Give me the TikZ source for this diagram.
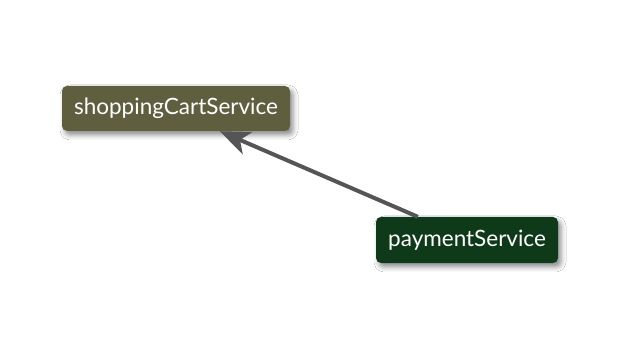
\documentclass[tikz,border=0pt]{standalone}
\usepackage{fontspec}
\setmainfont{Lato}
\usetikzlibrary{arrows.meta,shadows.blur}
\definecolor{cartfill}{HTML}{5F5F40}
\definecolor{payfill}{HTML}{0F3A19}
\definecolor{edgegray}{HTML}{555555}
\tikzset{
  svc/.style={rounded corners=5pt, text=white, inner sep=0pt,
    font=\fontsize{22.5}{26}\selectfont,
    blur shadow={shadow xshift=3pt, shadow yshift=-4pt, shadow blur radius=5pt, shadow opacity=45}},
  callarrow/.style={draw=edgegray, line width=4pt,
    -{Stealth[length=30pt, width=24pt, inset=8pt]}}
}
\begin{document}
\begin{tikzpicture}[x=1pt,y=1pt]
  \useasboundingbox[fill=white] (0,0) rectangle (627,362);
  \node[svc, fill=cartfill, minimum width=228pt, minimum height=45pt] (cart) at (176,253.5) {shoppingCartService};
  \node[svc, fill=payfill, minimum width=182pt, minimum height=46pt] (pay) at (467,122) {paymentService};
  \coordinate (src) at ([xshift=42pt]pay.north west);
  \coordinate (dst) at ([xshift=158pt]cart.south west);
  \draw[callarrow] (src) -- (dst);
\end{tikzpicture}
\end{document}
